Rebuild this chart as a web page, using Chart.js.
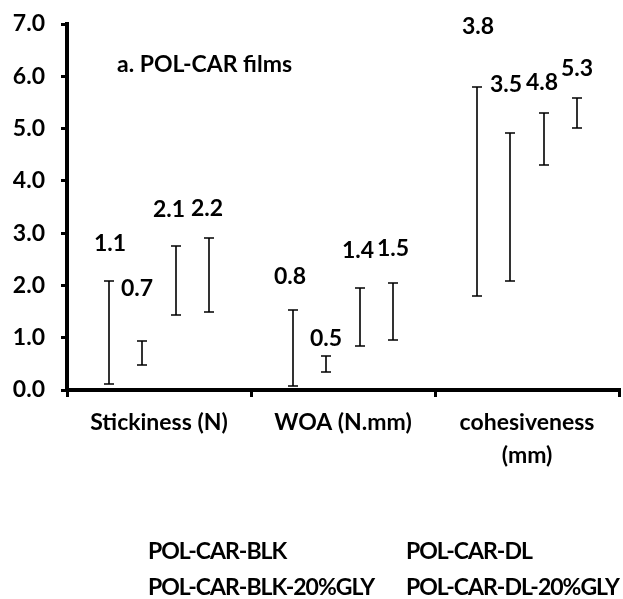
<!DOCTYPE html>
<html>
<head>
<meta charset="utf-8">
<script src="https://cdn.jsdelivr.net/npm/chart.js@4.4.1/dist/chart.umd.min.js"></script>
<style>
    html, body { margin: 0; padding: 0; background: #ffffff; }
    #wrap { width: 623px; height: 599px; position: relative; }
</style>
</head>
<body>
<div id="wrap"><canvas id="chartCanvas"></canvas></div>
<script>
// Categories and series
const categories = ['Stickiness (N)', 'WOA (N.mm)', ['cohesiveness', '(mm)']];
const seriesNames = ['POL-CAR-BLK', 'POL-CAR-DL', 'POL-CAR-BLK-20%GLY', 'POL-CAR-DL-20%GLY'];

// Means
const blkMean = [1.1, 0.8, 3.8];
const dlMean = [0.7, 0.5, 3.5];
const blkGlyMean = [2.1, 1.4, 4.8];
const dlGlyMean = [2.2, 1.5, 5.3];

// Standard deviations (error bars)
const blkErr = [0.98, 0.73, 2.0];
const dlErr = [0.23, 0.15, 1.42];
const blkGlyErr = [0.66, 0.56, 0.5];
const dlGlyErr = [0.7, 0.55, 0.28];

const yTicks = [0, 1, 2, 3, 4, 5, 6, 7];
const panelTitle = 'a. POL-CAR films';

(function() {
    const FONT = 'Lato, "Open Sans", sans-serif';
    const FONT_SIZE = 23;
    const means = [blkMean, dlMean, blkGlyMean, dlGlyMean];
    const errs = [blkErr, dlErr, blkGlyErr, dlGlyErr];

    // value labels were hand-placed above the error bars: [dx, gap above top] per bar
    const labelNudge = [
        [[1, 37], [-3, 33], [1, 60]],
        [[-5, 52], [0, 17], [-4, 48]],
        [[-7, 36], [-2, 37], [-2, 30]],
        [[-2, 29], [0, 34], [0, 29]]
    ];

    const errorBars = {
        id: 'errorBars',
        afterDatasetsDraw(chart) {
            const ctx = chart.ctx;
            const y = chart.scales.y;
            ctx.save();
            ctx.strokeStyle = '#000';
            ctx.lineWidth = 1.6;
            ctx.fillStyle = '#000';
            ctx.font = 'bold ' + FONT_SIZE + 'px ' + FONT;
            ctx.textBaseline = 'middle';

            chart.data.datasets.forEach((ds, di) => {
                const meta = chart.getDatasetMeta(di);
                meta.data.forEach((bar, i) => {
                    const v = ds.data[i];
                    const e = errs[di][i];
                    const top = Math.round(y.getPixelForValue(v + e));
                    const bot = Math.round(y.getPixelForValue(v - e));
                    const x = Math.round(bar.x);
                    ctx.beginPath();
                    ctx.moveTo(x, top); ctx.lineTo(x, bot);
                    ctx.moveTo(x - 5, top); ctx.lineTo(x + 5, top);
                    ctx.moveTo(x - 5, bot); ctx.lineTo(x + 5, bot);
                    ctx.stroke();

                    // value label
                    const n = labelNudge[di][i];
                    ctx.textAlign = 'center';
                    ctx.fillText(v.toFixed(1), x + n[0], top - n[1]);
                });
            });

            // panel title inside the plot
            const a = chart.chartArea;
            ctx.textAlign = 'left';
            ctx.fillText(panelTitle, a.left + 50, a.top + 41);

            // legend (bars have no fill, so only the names show); caps run wide, tighten them
            const cols = [148, 406];
            const rows = [552, 588];
            ctx.letterSpacing = '-1px';
            chart.data.datasets.forEach((ds, di) => {
                ctx.fillText(ds.label, cols[di % 2], rows[Math.floor(di / 2)]);
            });
            ctx.restore();
        }
    };

    const datasets = seriesNames.map((name, i) => ({
        label: name,
        data: means[i],
        backgroundColor: 'rgba(0,0,0,0)',
        borderWidth: 0,
        categoryPercentage: 0.724,
        barPercentage: 0.8
    }));

    new Chart(document.getElementById('chartCanvas'), {
        type: 'bar',
        data: { labels: categories, datasets: datasets },
        options: {
            responsive: true,
            maintainAspectRatio: false,
            animation: false,
            layout: { padding: { left: 13, right: 4, top: 0, bottom: 117 } },
            plugins: {
                legend: { display: false },
                tooltip: { enabled: false }
            },
            scales: {
                x: {
                    grid: {
                        display: true,
                        drawOnChartArea: false,
                        color: '#000',
                        lineWidth: 3,
                        tickLength: 7
                    },
                    border: { display: true, color: '#000', width: 4 },
                    ticks: {
                        color: '#000',
                        padding: 9.5,
                        maxRotation: 0,
                        font: { family: FONT, size: FONT_SIZE, weight: 'bold', lineHeight: '33px' }
                    }
                },
                y: {
                    min: 0,
                    max: 7,
                    afterBuildTicks(axis) {
                        axis.ticks = yTicks.map(v => ({ value: v }));
                    },
                    afterFit(axis) {
                        axis.width = 54;
                        axis.paddingTop = 24;
                    },
                    grid: {
                        display: true,
                        drawOnChartArea: false,
                        color: '#000',
                        lineWidth: 3,
                        tickLength: 6
                    },
                    border: { display: true, color: '#000', width: 4 },
                    ticks: {
                        color: '#000',
                        padding: 16,
                        callback: v => Number(v).toFixed(1),
                        font: { family: FONT, size: FONT_SIZE, weight: 'bold' }
                    }
                }
            }
        },
        plugins: [errorBars]
    });
})();
</script>
</body>
</html>
